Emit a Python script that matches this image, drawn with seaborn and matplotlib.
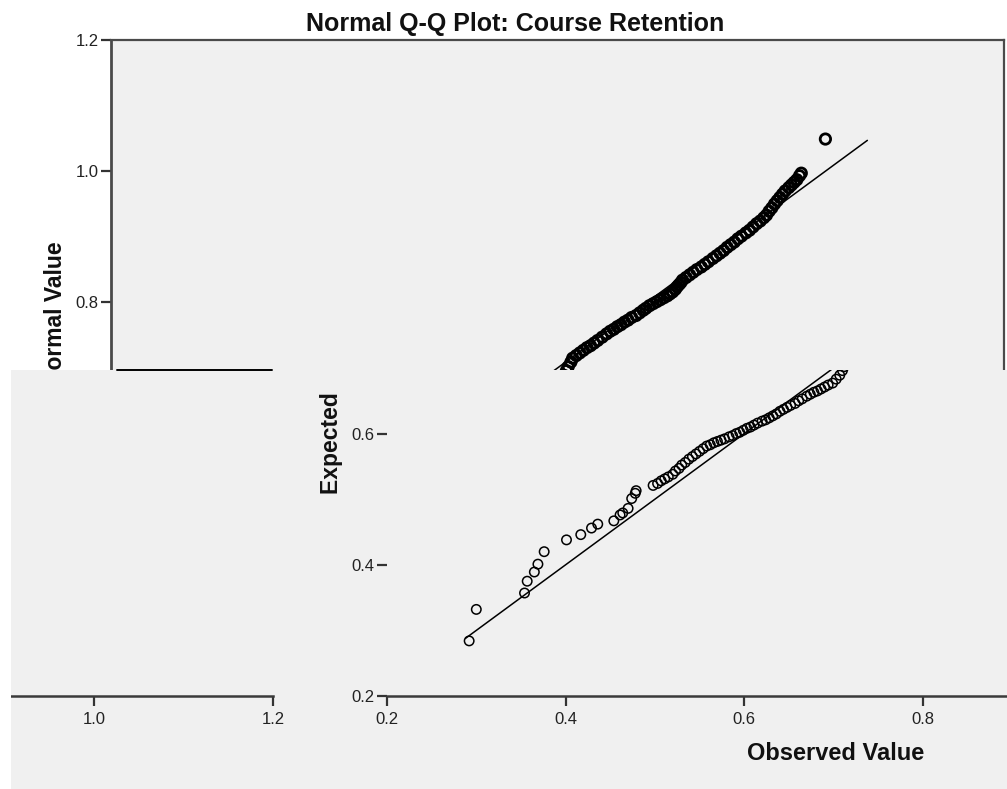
import matplotlib
matplotlib.use("Agg")
import matplotlib.pyplot as plt
import seaborn as sns
import pandas as pd
from matplotlib.transforms import Bbox, TransformedBbox
from matplotlib.lines import Line2D
from matplotlib.patches import Rectangle

# ---------------- data ----------------
title = "Normal Q-Q Plot: Course Retention"
x_label = "Observed Value"
y_label = "Expected Normal Value"
x_ticks = [0.2, 0.4, 0.6, 0.8, 1.0, 1.2]
y_ticks = [0.2, 0.4, 0.6, 0.8, 1.0, 1.2]
ref_line = [0.288, 1.047]

observed = [
    0.292, 0.300, 0.354, 0.357, 0.365, 0.369, 0.376, 0.401, 0.417, 0.429,
    0.436, 0.454, 0.461, 0.464, 0.470, 0.474, 0.478, 0.479,
    0.498, 0.503, 0.507, 0.511, 0.515, 0.520,
    0.523, 0.527, 0.530, 0.534, 0.538, 0.542, 0.546, 0.550, 0.554, 0.558,
    0.562, 0.566, 0.570, 0.574, 0.578, 0.583, 0.587, 0.591, 0.595,
    0.599, 0.603, 0.607, 0.611, 0.615, 0.620, 0.624, 0.628, 0.632,
    0.636, 0.640, 0.644, 0.648, 0.652, 0.657, 0.661, 0.665, 0.670,
    0.674, 0.678, 0.682, 0.686, 0.690, 0.694, 0.699,
    0.703, 0.707, 0.710, 0.712, 0.715, 0.717,
    0.721, 0.725, 0.729, 0.733, 0.737, 0.741, 0.745, 0.750, 0.755,
    0.759, 0.763, 0.767, 0.771, 0.775, 0.779, 0.783, 0.788, 0.792,
    0.796, 0.799, 0.803,
    0.807, 0.811, 0.815, 0.819, 0.823, 0.826, 0.829,
    0.832, 0.834, 0.836, 0.838, 0.840,
    0.844, 0.848, 0.852, 0.856, 0.861, 0.865, 0.869, 0.874, 0.878,
    0.882, 0.886, 0.890, 0.894, 0.898, 0.902, 0.906, 0.911, 0.915,
    0.919, 0.923, 0.927, 0.931, 0.934,
    0.937, 0.940, 0.943, 0.946, 0.949, 0.952,
    0.955, 0.959, 0.962, 0.965, 0.968, 0.971, 0.973,
    1.000,
]

expected = [
    0.284, 0.332, 0.357, 0.375, 0.389, 0.401, 0.420, 0.438, 0.446, 0.456,
    0.462, 0.467, 0.476, 0.479, 0.486, 0.501, 0.509, 0.513,
    0.521, 0.524, 0.528, 0.531, 0.534, 0.538,
    0.543, 0.547, 0.552, 0.556, 0.561, 0.565, 0.569, 0.573, 0.577, 0.581,
    0.583, 0.586, 0.588, 0.590, 0.592, 0.595, 0.597, 0.600, 0.602,
    0.605, 0.608, 0.610, 0.613, 0.616, 0.619, 0.621, 0.624, 0.627,
    0.630, 0.634, 0.637, 0.640, 0.643, 0.646, 0.650, 0.653, 0.657,
    0.660, 0.663, 0.665, 0.668, 0.671, 0.674, 0.677,
    0.683, 0.689, 0.696, 0.702, 0.709, 0.715,
    0.719, 0.723, 0.727, 0.731, 0.734, 0.738, 0.742, 0.747, 0.752,
    0.756, 0.759, 0.763, 0.766, 0.770, 0.773, 0.777, 0.780, 0.784,
    0.788, 0.791, 0.795,
    0.798, 0.801, 0.804, 0.807, 0.810, 0.813, 0.816,
    0.820, 0.824, 0.827, 0.830, 0.834,
    0.838, 0.842, 0.846, 0.850, 0.854, 0.858, 0.862, 0.867, 0.871,
    0.875, 0.879, 0.884, 0.888, 0.892, 0.897, 0.901, 0.906, 0.910,
    0.915, 0.920, 0.924, 0.929, 0.933,
    0.939, 0.944, 0.950, 0.955, 0.960, 0.965,
    0.970, 0.975, 0.979, 0.983, 0.987, 0.993, 0.997,
    1.049,
]
assert len(observed) == len(expected)

# ---------------- style ----------------
sns.set_style("white")
plt.rcParams['font.family'] = ['Liberation Sans', 'DejaVu Sans']

W, H = 1007, 789
GRAY = '#f0f0f0'
SPINE = '#4a4a4a'
TXT = '#111111'
fig = plt.figure(figsize=(W / 100, H / 100), dpi=100)
fig.patch.set_facecolor('white')

# frame of the intact chart, in pixels
L, R, T, B = 111, 1004, 40, 696
PX_X = (R - L) / 1.0      # pixels per unit on x
PX_Y = (B - T) / 1.0      # pixels per unit on y


def rect(l, t, r, b):
    return [l / W, 1 - b / H, (r - l) / W, (b - t) / H]


df = pd.DataFrame({'Observed': observed, 'Expected': expected})
line_df = pd.DataFrame({'x': ref_line, 'y': ref_line})


def draw(ax, size, ew):
    sns.lineplot(data=line_df, x='x', y='y', ax=ax, color='black',
                 linewidth=1.1, zorder=2)
    sns.scatterplot(data=df, x='Observed', y='Expected', ax=ax, marker='o',
                    s=size, zorder=3)
    sc = ax.collections[-1]
    sc.set_facecolor('none')
    sc.set_edgecolor('black')
    sc.set_linewidth(ew)
    ax.set_xlim(0.2, 1.2)
    ax.tick_params(axis='both', direction='out', length=7.5, width=1.6,
                   color='#333333', labelsize=12, labelcolor='#222222',
                   bottom=True, left=True)
    ax.tick_params(axis='y', pad=1.5)
    ax.tick_params(axis='x', pad=4)


# ---------------- top (intact) part ----------------
strip_top = 370
ax_top = fig.add_axes(rect(L, T, R, B), zorder=0)
ax_top.set_facecolor(GRAY)
draw(ax_top, 56, 2.0)
ax_top.set_ylim(0.2, 1.2)
top_yt = [t for t in y_ticks if B - (t - 0.2) * PX_Y < strip_top]
ax_top.set_yticks(top_yt)
ax_top.set_yticklabels([f"{t:.1f}" for t in top_yt])
ax_top.set_xticks([])
ax_top.set_xlabel("")
for side in ['left', 'top', 'right', 'bottom']:
    ax_top.spines[side].set_color(SPINE)
ax_top.spines['left'].set_linewidth(2.0)
ax_top.spines['top'].set_linewidth(1.6)
ax_top.spines['right'].set_linewidth(1.6)
ax_top.set_ylabel(y_label, fontsize=16.5, fontweight='bold', color=TXT)
ax_top.yaxis.set_label_coords(-0.049, 0.5)

# ---------------- shifted (wrapped) lower strip ----------------
fig.add_artist(Rectangle((11 / W, 0), 1 - 11 / W, (H - strip_top) / H,
                         transform=fig.transFigure, facecolor=GRAY,
                         edgecolor='none', zorder=1))

shift = 276
strip_h = B - strip_top
ylim_top = 0.2 + strip_h / PX_Y
label_clip = TransformedBbox(Bbox([[11 / W, 0], [1, 1 - 393 / H]]),
                             fig.transFigure)

for k, offset in enumerate((shift, shift - W)):
    left = L + offset
    ax = fig.add_axes(rect(left, strip_top, R + offset, B), zorder=2)
    ax.set_facecolor('none')
    draw(ax, 46, 1.1)
    ax.set_ylim(0.2, ylim_top)
    xt = [t for t in x_ticks if 0 < left + (t - 0.2) * PX_X < W - 20]
    ax.set_xticks(xt)
    ax.set_xticklabels([f"{t:.1f}" for t in xt])
    for side in ['left', 'top', 'right']:
        ax.spines[side].set_visible(False)
    ax.spines['bottom'].set_visible(True)
    ax.spines['bottom'].set_color('#3a3a3a')
    ax.spines['bottom'].set_linewidth(1.8)
    if k == 0:
        yt = [t for t in y_ticks if t <= ylim_top]
        ax.set_yticks(yt)
        ax.set_yticklabels([f"{t:.1f}" for t in yt])
        ax.set_xlabel(x_label, fontsize=17, fontweight='bold', color=TXT)
        ax.xaxis.set_label_coords(0.502, -0.140)
        ax.set_ylabel(y_label, fontsize=16.5, fontweight='bold', color=TXT)
        ax.yaxis.set_label_coords(-0.049, (B - 368) / strip_h)
        ax.yaxis.label.set_clip_on(True)
        ax.yaxis.label.set_clip_box(label_clip)
    else:
        ax.set_yticks([])
        ax.set_xlabel("")
        ax.set_ylabel("")

# white margin at left of strip and the seam line
fig.add_artist(Rectangle((0, 0), 11 / W, (H - strip_top) / H,
                         transform=fig.transFigure, facecolor='white',
                         edgecolor='none', zorder=5))
fig.add_artist(Line2D([117 / W, 272 / W], [1 - strip_top / H] * 2,
                      transform=fig.transFigure, color='black',
                      linewidth=1.4, zorder=5))

fig.text(515 / W, 1 - 31 / H, title, ha='center', va='baseline',
         fontsize=18, fontweight='bold', color=TXT)

fig.savefig('out.png', dpi=100, facecolor='white')
